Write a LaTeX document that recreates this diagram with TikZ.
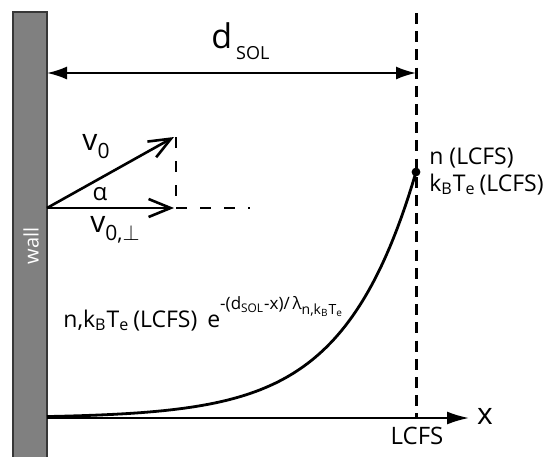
\documentclass[tikz,border=0pt]{standalone}
\usepackage{fontspec}
\setmainfont{Open Sans}
\usetikzlibrary{arrows.meta}
\definecolor{wallgray}{RGB}{128,128,128}
\definecolor{wallborder}{RGB}{55,55,55}
\begin{document}
\begin{tikzpicture}[x=0.5pt,y=-0.5pt,
  wallbox/.style={draw=wallborder,line width=0.6pt,fill=wallgray},
  dimarrow/.style={line width=1pt,{Latex[length=10pt,width=6.5pt]}-{Latex[length=10pt,width=6.5pt]}},
  axisarrow/.style={line width=1pt,-{Latex[length=11pt,width=6.5pt]}},
  vecarrow/.style={line width=1.3pt,-{Straight Barb[length=11pt,width=9pt,line width=1.3pt]}},
  lcfsline/.style={line width=1.5pt,dash pattern=on 5.5pt off 3.6pt},
  helper/.style={line width=1pt,dash pattern=on 5.5pt off 6.5pt},
  curveline/.style={line width=1.4pt},
  dotnode/.style={circle,fill=black,inner sep=0pt,minimum size=4.4pt},
  lbl/.style={inner sep=0pt,font=\fontsize{11.5}{13}\selectfont}
]
\useasboundingbox (0,0) rectangle (544,456);
\clip (0,0) rectangle (544,456);
\fill[white] (0,0) rectangle (544,456);
% wall
\draw[wallbox] (13,12) rectangle (47,470);
\node[rotate=90,text=white,inner sep=0pt,font=\fontsize{10}{11}\selectfont] (walltext) at (31,246) {wall};
% coordinates
\coordinate (dL) at (47,73);
\coordinate (dR) at (416,73);
\coordinate (lcfsTop) at (416,13);
\coordinate (lcfsBot) at (416,418);
\coordinate (axL) at (47,418);
\coordinate (axR) at (469,418);
\coordinate (O) at (47,208);
\coordinate (Vtip) at (174,137);
\coordinate (Ptip) at (174,208);
\coordinate (hTop) at (176,137);
\coordinate (hMid) at (176,208);
\coordinate (hEnd) at (250,208);
% dashed LCFS line
\draw[lcfsline] (lcfsTop) -- (lcfsBot);
% d_SOL arrow
\draw[dimarrow] (dL) -- (dR);
\node[anchor=base west,inner sep=0pt,font=\fontsize{17}{18}\selectfont] (dsol) at (211,48) {d\hspace{2pt}\raisebox{-5.5pt}{\fontsize{9}{10}\selectfont SOL}};
% x axis
\draw[axisarrow] (axL) -- (axR);
\node[inner sep=0pt,font=\fontsize{15}{16}\selectfont] (xlbl) at (485,416) {x};
\node[inner sep=0pt,font=\fontsize{12}{13}\selectfont] (lcfslbl) at (417,436) {LCFS};
% vectors
\draw[helper] (hTop) -- (hMid);
\draw[helper] (hMid) -- (hEnd);
\draw[vecarrow] (O) -- (Vtip);
\draw[vecarrow] (O) -- (Ptip);
\node[inner sep=0pt,font=\fontsize{15}{16}\selectfont] (v0) at (96,147) {v\raisebox{-4pt}{\fontsize{10.5}{11}\selectfont 0}};
\node[inner sep=0pt,font=\fontsize{12}{13}\selectfont] (alpha) at (100,194) {α};
\node[inner sep=0pt,font=\fontsize{15}{16}\selectfont] (v0p) at (115,230) {v\raisebox{-4pt}{\fontsize{10.5}{11}\selectfont 0,$\perp$}};
% profile curve
\draw[curveline] plot[domain=47:416,samples=100] (\x,{418-246*exp((\x-416)/72)});
\node[dotnode] (lcfsdot) at (416,172) {};
\node[lbl,anchor=base west] (nl) at (429,164) {n (LCFS)};
\node[lbl,anchor=base west] (tl) at (429,191) {k\textsubscript{B}T\textsubscript{e}\,(LCFS)};
% formula
\node[lbl,anchor=base west] (formula) at (63,327) {n,k\textsubscript{B}T\textsubscript{e}\,(LCFS)\hspace{5pt}e\raisebox{9pt}{\fontsize{8.5}{9}\selectfont -(d\textsubscript{SOL}-x)/\,λ\raisebox{-2.5pt}{\fontsize{7}{8}\selectfont n,k\textsubscript{B}T\textsubscript{e}}}};
\end{tikzpicture}
\end{document}
